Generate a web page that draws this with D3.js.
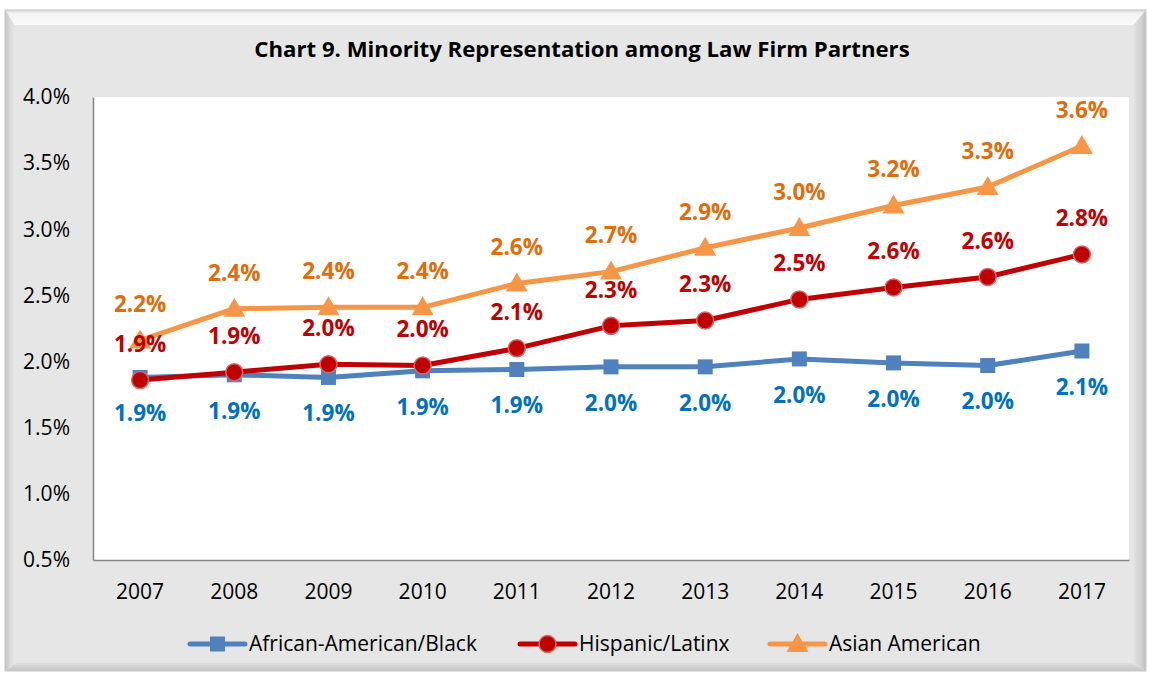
<!DOCTYPE html>
<html><head><meta charset="utf-8">
<script src="https://cdn.jsdelivr.net/npm/d3@7"></script>
<style>body{margin:0;background:#fff;}svg{display:block;}</style>
</head><body>
<script>
const years = ["2007","2008","2009","2010","2011","2012","2013","2014","2015","2016","2017"];
const black = [1.88,1.90,1.88,1.93,1.94,1.96,1.96,2.02,1.99,1.97,2.08];
const hispanic = [1.86,1.92,1.98,1.97,2.10,2.27,2.31,2.47,2.56,2.64,2.81];
const asian = [2.16,2.40,2.41,2.41,2.59,2.68,2.86,3.01,3.18,3.32,3.63];
const yTicks = [0.5,1.0,1.5,2.0,2.5,3.0,3.5,4.0];
const seriesNames = ["African-American/Black","Hispanic/Latinx","Asian American"];
const title = "Chart 9. Minority Representation among Law Firm Partners";

const W=1149,H=675;
const svg=d3.select("body").append("svg").attr("width",W).attr("height",H);
const font="'Open Sans', Lato, sans-serif";
const defs=svg.append("defs");
function grad(id,x1,y1,x2,y2,stops){const g=defs.append("linearGradient").attr("id",id).attr("x1",x1).attr("y1",y1).attr("x2",x2).attr("y2",y2);stops.forEach(s=>g.append("stop").attr("offset",s[0]).attr("stop-color",s[1]));}
grad("gTop",0,0,0,1,[[0,"#d8d8d8"],[0.25,"#f4f4f4"],[1,"#fbfbfb"]]);
grad("gLeft",0,0,1,0,[[0,"#c4c4c4"],[0.5,"#dadada"],[1,"#e8e8e8"]]);
grad("gRight",0,0,1,0,[[0,"#e4e4e4"],[0.6,"#d2d2d2"],[1,"#bdbdbd"]]);
grad("gBot",0,0,0,1,[[0,"#e0e0e0"],[1,"#c4c4c4"]]);

// frame
const o={l:5,t:10,r:1146,b:671}, inn={l:15,t:25,r:1133,b:663};
svg.append("polygon").attr("points",`${o.l},${o.t} ${o.r},${o.t} ${inn.r},${inn.t} ${inn.l},${inn.t}`).attr("fill","url(#gTop)");
svg.append("polygon").attr("points",`${o.l},${o.t} ${inn.l},${inn.t} ${inn.l},${inn.b} ${o.l},${o.b}`).attr("fill","url(#gLeft)");
svg.append("polygon").attr("points",`${o.r},${o.t} ${o.r},${o.b} ${inn.r},${inn.b} ${inn.r},${inn.t}`).attr("fill","url(#gRight)");
svg.append("polygon").attr("points",`${o.l},${o.b} ${inn.l},${inn.b} ${inn.r},${inn.b} ${o.r},${o.b}`).attr("fill","url(#gBot)");
svg.append("rect").attr("x",inn.l).attr("y",inn.t).attr("width",inn.r-inn.l).attr("height",inn.b-inn.t).attr("fill","#e6e6e6");
svg.append("rect").attr("x",o.l).attr("y",o.t).attr("width",o.r-o.l).attr("height",o.b-o.t).attr("fill","none").attr("stroke","#c8c8c8").attr("stroke-width",1);

svg.append("text").attr("x",582).attr("y",57).attr("text-anchor","middle").attr("font-family",font).attr("font-weight","bold").attr("font-size",22.2).attr("fill","#000").text(title);

const pl=93,pt=97,pr=1129,pb=560;
svg.append("rect").attr("x",pl).attr("y",pt).attr("width",pr-pl).attr("height",pb-pt).attr("fill","#fff");
const x=d3.scaleBand().domain(years).range([pl,pr]);
const y=d3.scaleLinear().domain([0.5,4.0]).range([pb,pt]);

const yAxis=svg.append("g").attr("transform",`translate(${pl},0)`).call(d3.axisLeft(y).tickValues(yTicks).tickFormat(d=>d.toFixed(1)+"%").tickSize(0).tickPadding(23));
yAxis.select(".domain").attr("stroke","#868686").attr("stroke-width",1.5);
yAxis.selectAll("text").attr("font-family",font).attr("font-size",21).attr("fill","#000");
const xAxis=svg.append("g").attr("transform",`translate(0,${pb})`).call(d3.axisBottom(x).tickSize(0).tickPadding(24));
xAxis.select(".domain").attr("stroke","#868686").attr("stroke-width",1.5);
xAxis.selectAll("text").attr("font-family",font).attr("font-size",21).attr("fill","#000");

const cx=d=>x(d)+x.bandwidth()/2;
const series=[
 {name:seriesNames[0],vals:black,line:"#4f81bd",lab:"#0070c0",mark:"square",dy:36},
 {name:seriesNames[1],vals:hispanic,line:"#c00000",lab:"#c00000",mark:"circle",dy:-36},
 {name:seriesNames[2],vals:asian,line:"#f79646",lab:"#e36c09",mark:"triangle",dy:-36}
];
function drawMarker(g,type,px,py,s){
  if(type==="square") g.append("rect").attr("x",px-7.5).attr("y",py-7.5).attr("width",15).attr("height",15).attr("fill",s.line);
  else if(type==="circle") g.append("circle").attr("cx",px).attr("cy",py).attr("r",8.5).attr("fill","#c00000").attr("stroke","#d46a6a").attr("stroke-width",1.5);
  else g.append("path").attr("d",`M${px},${py-11}L${px+11},${py+8}L${px-11},${py+8}Z`).attr("fill",s.line);
}
series.forEach(s=>{
  const g=svg.append("g");
  const line=d3.line().x((d,i)=>cx(years[i])).y(d=>y(d));
  g.append("path").datum(s.vals).attr("d",line).attr("fill","none").attr("stroke",s.line).attr("stroke-width",5).attr("stroke-linejoin","round");
  s.vals.forEach((v,i)=>drawMarker(g,s.mark,cx(years[i]),y(v),s));
});
series.forEach(s=>{
  svg.append("g").selectAll("text").data(s.vals).join("text")
   .attr("x",(d,i)=>cx(years[i])).attr("y",d=>y(d)+s.dy).attr("dy","0.35em").attr("text-anchor","middle")
   .attr("font-family",font).attr("font-weight","bold").attr("font-size",22.5).attr("fill",s.lab)
   .text(d=>d.toFixed(1)+"%");
});

// legend
const legX=[190,520,770];
series.forEach((s,i)=>{
  const g=svg.append("g");
  const lx=legX[i], ly=644;
  g.append("line").attr("x1",lx).attr("x2",lx+55).attr("y1",ly).attr("y2",ly).attr("stroke",s.line).attr("stroke-width",5).attr("stroke-linecap","round");
  drawMarker(g,s.mark,lx+27.5,ly,s);
  g.append("text").attr("x",lx+59).attr("y",ly).attr("dy","0.35em").attr("font-family",font).attr("font-size",21).attr("fill","#000").text(s.name);
});
</script>
</body></html>
